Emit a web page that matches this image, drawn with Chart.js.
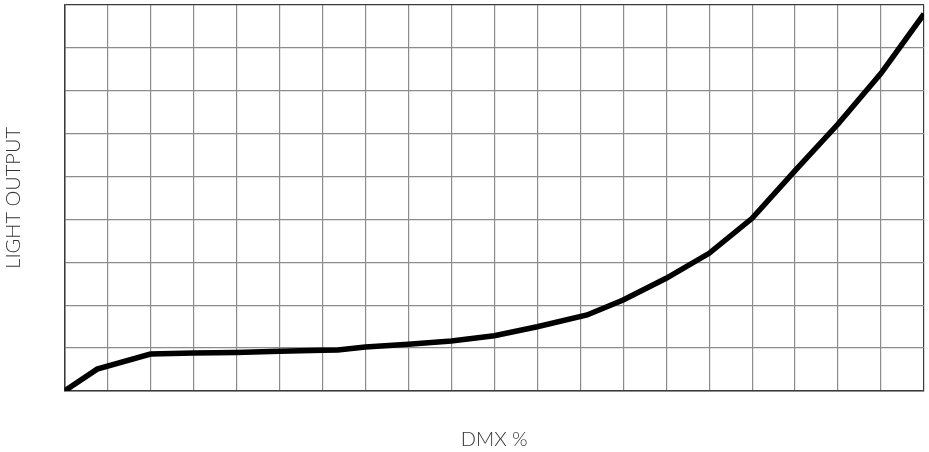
<!DOCTYPE html>
<html>
<head>
<meta charset="utf-8">
<script src="https://cdn.jsdelivr.net/npm/chart.js@4/dist/chart.umd.min.js"></script>
<style>
  html, body { margin: 0; padding: 0; background: #fff; }
  #wrap { width: 929px; height: 452px; position: relative; }
</style>
</head>
<body>
<div id="wrap"><canvas id="curveChart"></canvas></div>
<script>
// DMX % positions and light output
const dmxPercent = [0, 3.8, 10, 15, 20, 25, 30, 31.8, 35, 40, 45, 50, 55, 60.8, 65, 70, 75, 80, 85, 90, 95, 100];
const lightOutput = [0, 5.1, 8.6, 8.85, 8.97, 9.25, 9.48, 9.55, 10.25, 10.88, 11.65, 12.88, 14.98, 17.71, 21.2, 26.26, 32.08, 40.24, 51.33, 62.2, 74.0, 87.84];

const xTitle = 'DMX %';
const yTitle = 'LIGHT OUTPUT';

const points = dmxPercent.map((x, i) => ({ x: x, y: lightOutput[i] }));

const gridColor = '#8c8c8c';
const edgeColor = '#3a3a3a';
const titleFont = { family: 'Lato', size: 20, weight: '300' };

new Chart(document.getElementById('curveChart'), {
    type: 'line',
    data: {
        datasets: [{
            data: points,
            borderColor: '#000',
            borderWidth: 5.5,
            pointRadius: 0,
            tension: 0,
            borderJoinStyle: 'miter',
            fill: false
        }]
    },
    options: {
        responsive: true,
        maintainAspectRatio: false,
        animation: false,
        layout: { padding: { top: 4.7, right: 5, left: 0, bottom: 0 } },
        plugins: { legend: { display: false }, tooltip: { enabled: false } },
        scales: {
            x: {
                type: 'linear',
                min: 0,
                max: 100,
                ticks: { display: false, stepSize: 5 },
                grid: {
                    drawTicks: false,
                    lineWidth: 1.2,
                    color: ctx => ctx.index === 20 ? edgeColor : gridColor
                },
                border: { color: edgeColor, width: 1.5 },
                title: {
                    display: true,
                    text: xTitle,
                    color: '#333',
                    font: titleFont,
                    padding: { top: 0, bottom: 0.5 }
                },
                afterFit: scale => { scale.height = 61; }
            },
            y: {
                min: 0,
                max: 90,
                ticks: { display: false, stepSize: 10 },
                grid: {
                    drawTicks: false,
                    lineWidth: 1.2,
                    color: ctx => ctx.index === 9 ? edgeColor : gridColor
                },
                border: { color: edgeColor, width: 1.5 },
                title: {
                    display: true,
                    text: yTitle,
                    color: '#333',
                    font: titleFont,
                    padding: { top: 2, bottom: 0 }
                },
                afterFit: scale => { scale.width = 64.5; }
            }
        }
    }
});
</script>
</body>
</html>
